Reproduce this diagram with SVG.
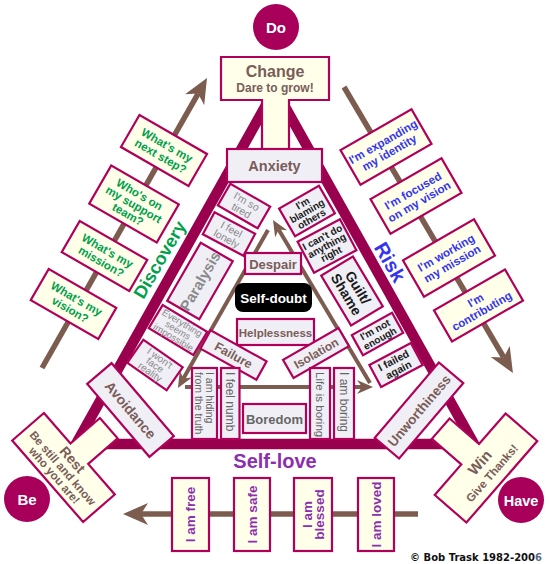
<svg xmlns="http://www.w3.org/2000/svg" width="550" height="564" viewBox="0 0 550 564">
<style>
text{font-family:"Liberation Sans",Arial,Helvetica,sans-serif;font-weight:bold;text-anchor:middle}
.n{font-weight:normal}
.c{fill:#ffffea;stroke:#b0005a;stroke-width:2.2}
.l{fill:#f0eff6;stroke:#b0005a;stroke-width:2.2}
.br{fill:#7a5c58}
.g{fill:#00a04a;font-size:11.5px}
.bl{fill:#3535f0;font-size:11.5px}
.pu{fill:#8b2fae}
.gr{fill:#8a8a8a}
.dg{fill:#666666}
.k{fill:#1a1a1a}
.w{fill:#ffffff}
.ci{fill:#a8005a}
.arr{stroke:#7d5c50;fill:none;stroke-width:5.5}
.ia{stroke:#7d5c50;fill:none;stroke-width:4}
.st{text-anchor:start}
</style>
<defs>
<marker id="ah" markerUnits="userSpaceOnUse" viewBox="0 -12 26 24" markerWidth="26" markerHeight="24" refX="7" refY="0" orient="auto"><path d="M0,-11L25,0L0,11L7,0Z" fill="#7d5c50"/></marker>
<marker id="ahs" markerUnits="userSpaceOnUse" viewBox="0 -8 17 16" markerWidth="17" markerHeight="16" refX="5" refY="0" orient="auto"><path d="M0,-7L16,0L0,7L5,0Z" fill="#7d5c50"/></marker>
</defs>

<g id="frame"><polygon points="275,89 76,444 474,444" fill="none" stroke="#99004d" stroke-width="10.5"/></g>

<g id="connectors">
<path class="arr" d="M42,368L198.1,93.6" marker-end="url(#ah)"/>
<path class="arr" d="M344,87L503.8,357.5" marker-end="url(#ah)"/>
<path class="arr" d="M418,514H141" marker-end="url(#ah)"/>
<path class="ia" d="M268,230L183.4,378.4" marker-end="url(#ahs)"/>
<path class="ia" d="M185,387H362" marker-end="url(#ahs)"/>
<path class="ia" d="M370,383L278.6,229.5" marker-end="url(#ahs)"/>
</g>

<g id="do"><circle class="ci" cx="276" cy="27" r="23"/><text class="w" x="276" y="32.5" font-size="15">Do</text></g>
<g id="be"><circle class="ci" cx="27" cy="499" r="23"/><text class="w" x="27" y="504.5" font-size="15">Be</text></g>
<g id="have"><circle class="ci" cx="521" cy="500" r="23"/><text class="w" x="521" y="505.5" font-size="14.5">Have</text></g>

<g id="change"><path class="c" d="M221,57H329V100H289V150H262V100H221Z"/><text class="br" x="275" y="77" font-size="16">Change</text><text class="br" x="275" y="92" font-size="12">Dare to grow!</text></g>
<g id="anxiety"><rect class="l" x="227" y="149" width="95" height="33"/><text class="br" x="274.5" y="170.5" font-size="14.5">Anxiety</text></g>

<g id="rest" transform="translate(63.5,467.5) rotate(49)"><path class="c" d="M-54,-21H-13.5V-60H13.5V-21H54V21H-54Z"/><text class="br" y="-7" font-size="14">Rest</text><text class="br" y="5" font-size="11.5">Be still and know</text><text class="br" y="16" font-size="11.5">who you are!</text></g>
<g id="win" transform="translate(486,468) rotate(-49)"><path class="c" d="M-54,-21H-13.5V-60H13.5V-21H54V21H-54Z"/><text class="br" y="-3" font-size="15">Win</text><text class="br" y="12" font-size="11.5">Give Thanks!</text></g>

<g id="avoidance" transform="translate(130.5,410) rotate(49.6)"><rect class="l" x="-48" y="-16" width="96" height="32"/><text class="br" y="5" font-size="14">Avoidance</text></g>
<g id="unworthiness" transform="translate(419,410.5) rotate(-49.6)"><rect class="l" x="-49.5" y="-16" width="99" height="32"/><text class="br" y="5" font-size="13.5">Unworthiness</text></g>

<g id="s-next" transform="translate(164,150.5) rotate(30)"><rect class="c" x="-39" y="-18.5" width="78" height="37"/><text class="g" y="-2">What's my</text><text class="g" y="10.5">next step?</text></g>
<g id="s-team" transform="translate(134,204) rotate(30)"><rect class="c" x="-39" y="-22" width="78" height="44"/><text class="g" y="-7">Who's on</text><text class="g" y="4.5">my support</text><text class="g" y="16">team?</text></g>
<g id="s-mission" transform="translate(104.5,256) rotate(30)"><rect class="c" x="-39" y="-18" width="78" height="36"/><text class="g" y="-2">What's my</text><text class="g" y="10.5">mission?</text></g>
<g id="s-vision" transform="translate(73.5,304) rotate(30)"><rect class="c" x="-39" y="-18" width="78" height="36"/><text class="g" y="-2">What's my</text><text class="g" y="10.5">vision?</text></g>

<g id="r-identity" transform="translate(386,147) rotate(-30)"><rect class="c" x="-41" y="-20" width="82" height="40"/><text class="bl" y="-2">I'm expanding</text><text class="bl" y="10.5">my identity</text></g>
<g id="r-vision" transform="translate(416,196) rotate(-30)"><rect class="c" x="-41" y="-20" width="82" height="40"/><text class="bl" y="-2">I'm focused</text><text class="bl" y="10.5">on my vision</text></g>
<g id="r-mission" transform="translate(449,258) rotate(-30)"><rect class="c" x="-41" y="-21" width="82" height="42"/><text class="bl" y="-2">I'm working</text><text class="bl" y="10.5">my mission</text></g>
<g id="r-contrib" transform="translate(478.5,305.5) rotate(-30)"><rect class="c" x="-41" y="-18" width="82" height="36"/><text class="bl" y="-2">I'm</text><text class="bl" y="10.5">contributing</text></g>

<g id="discovery" transform="translate(159.5,259.5) rotate(-60)"><text fill="#00a04a" y="6.5" font-size="18">Discovery</text></g>
<g id="risk" transform="translate(390,262) rotate(60)"><text fill="#3535f0" y="7" font-size="20">Risk</text></g>
<g id="selflove"><text class="pu" x="275" y="468" font-size="20">Self-love</text></g>

<g id="tired" transform="translate(244,206) rotate(30)"><rect class="l" x="-23" y="-12.5" width="46" height="25"/><text class="gr n" y="-1.5" font-size="10.5">I'm so</text><text class="gr n" y="9" font-size="10.5">tired</text></g>
<g id="lonely" transform="translate(229,234) rotate(28)"><rect class="l" x="-23" y="-12.5" width="46" height="25"/><text class="gr n" y="-1.5" font-size="10.5">I feel</text><text class="gr n" y="9" font-size="10.5">lonely</text></g>
<g id="paralysis" transform="translate(200,281) rotate(-60)"><rect class="l" x="-33.5" y="-18.5" width="67" height="37"/><text class="gr" y="5.5" font-size="15">Paralysis</text></g>
<g id="impossible" transform="translate(178,330) rotate(31)"><rect class="l" x="-26" y="-13.5" width="52" height="27"/><text class="gr n" y="-5" font-size="9.5">Everything</text><text class="gr n" y="3.5" font-size="9.5">seems</text><text class="gr n" y="12" font-size="9.5">impossible</text></g>
<g id="reality" transform="translate(155,365) rotate(35)"><rect class="l" x="-24" y="-14" width="48" height="28"/><text class="gr n" y="-5" font-size="10">I won't</text><text class="gr n" y="3.5" font-size="10">face</text><text class="gr n" y="12" font-size="10">reality</text></g>

<g id="blaming" transform="translate(307,211) rotate(-30)"><rect class="l" x="-23" y="-16" width="46" height="32"/><text class="k" y="-5.5" font-size="10">I'm</text><text class="k" y="3.5" font-size="10">blaming</text><text class="k" y="12.5" font-size="10">others</text></g>
<g id="cantdo" transform="translate(327,246) rotate(-28)"><rect class="l" x="-24" y="-17.5" width="48" height="35"/><text class="k" y="-6.5" font-size="10">I can't do</text><text class="k" y="3" font-size="10">anything</text><text class="k" y="12.5" font-size="10">right</text></g>
<g id="guilt" transform="translate(352,291) rotate(59)"><rect class="l" x="-29" y="-18.5" width="58" height="37"/><text class="k" y="-2" font-size="14">Guilt/</text><text class="k" y="11.5" font-size="14">Shame</text></g>
<g id="notenough" transform="translate(377.5,334) rotate(-29)"><rect class="l" x="-23" y="-11.5" width="46" height="23"/><text class="k" y="-1.5" font-size="10">I'm not</text><text class="k" y="8.5" font-size="10">enough</text></g>
<g id="failed" transform="translate(396,365) rotate(-28)"><rect class="l" x="-23.5" y="-12.5" width="47" height="25"/><text class="k" y="-1.5" font-size="10.5">I failed</text><text class="k" y="9" font-size="10.5">again</text></g>

<g id="despair"><rect class="l" x="245" y="253" width="56" height="21"/><text class="br" x="273" y="268.5" font-size="13">Despair</text></g>
<g id="selfdoubt"><rect x="235" y="283" width="77" height="29" rx="8" fill="#000"/><text class="w" x="273.5" y="302.5" font-size="13.5">Self-doubt</text></g>
<g id="helplessness"><rect class="l" x="237" y="319" width="77" height="26"/><text class="br" x="275.5" y="336.5" font-size="11.5">Helplessness</text></g>
<g id="failure" transform="translate(233.5,355) rotate(29)"><rect class="l" x="-32" y="-10.5" width="64" height="21"/><text class="br" y="4.5" font-size="12.5">Failure</text></g>
<g id="isolation" transform="translate(316,353) rotate(-30)"><rect class="l" x="-32" y="-10.5" width="64" height="21"/><text class="br" y="4.5" font-size="12">Isolation</text></g>
<g id="boredom"><rect class="l" x="243" y="404" width="63" height="29"/><text class="dg" x="274.5" y="423.5" font-size="13">Boredom</text></g>

<g id="hiding"><rect class="l" x="192" y="368" width="25" height="71"/><g transform="translate(204.5,372) rotate(90)"><text class="dg n st" y="-1.7" font-size="10.5">I am hiding</text><text class="dg n st" y="9.3" font-size="10.5">from the truth</text></g></g>
<g id="numb"><rect class="l" x="221" y="368" width="18.5" height="71"/><g transform="translate(230.2,372) rotate(90)"><text class="dg n st" y="4.3" font-size="12">I feel numb</text></g></g>
<g id="lifeboring"><rect class="l" x="310" y="368" width="20" height="71"/><g transform="translate(320,372) rotate(90)"><text class="dg n st" y="4.1" font-size="11.5">Life is boring</text></g></g>
<g id="amboring"><rect class="l" x="334" y="368" width="20" height="71"/><g transform="translate(344,372) rotate(90)"><text class="dg n st" y="4.3" font-size="12">I am boring</text></g></g>

<g id="free"><rect class="c" x="172" y="478" width="37" height="73"/><g transform="translate(190.5,514.5) rotate(-90)"><text class="pu" y="4.8" font-size="13.5">I am free</text></g></g>
<g id="safe"><rect class="c" x="234" y="478" width="36" height="73"/><g transform="translate(252,514.5) rotate(-90)"><text class="pu" y="4.8" font-size="13.5">I am safe</text></g></g>
<g id="blessed"><rect class="c" x="294" y="478" width="38" height="73"/><g transform="translate(313,514.5) rotate(-90)"><text class="pu" y="-1.4" font-size="13.5">I am</text><text class="pu" y="11.1" font-size="13.5">blessed</text></g></g>
<g id="loved"><rect class="c" x="358" y="478" width="36" height="73"/><g transform="translate(376,514.5) rotate(-90)"><text class="pu" y="4.8" font-size="13.5">I am loved</text></g></g>

<g id="copyright"><text x="542" y="561" font-size="10" style="font-family:'DejaVu Sans',Verdana,sans-serif;text-anchor:end" fill="#111">© Bob Trask 1982-200<tspan fill="#5a6a88">6</tspan></text></g>
</svg>
